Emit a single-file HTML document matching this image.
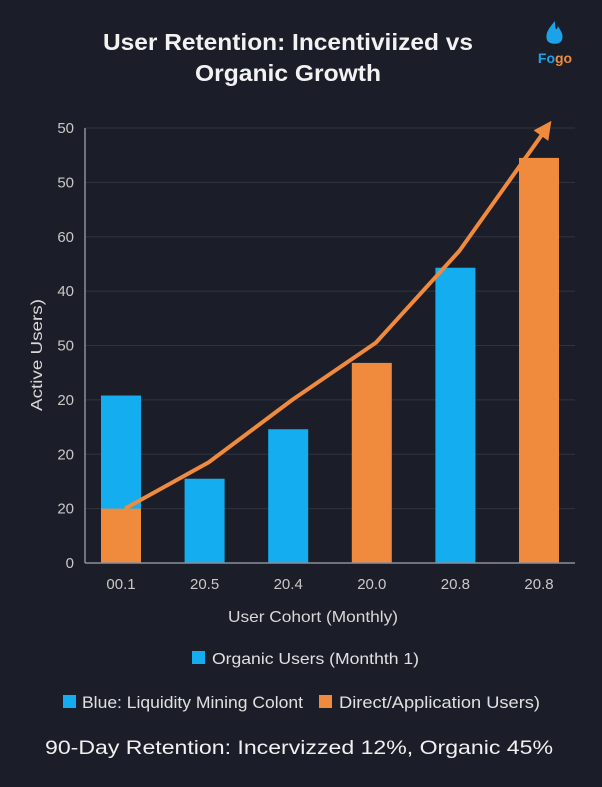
<!DOCTYPE html>
<html><head><meta charset="utf-8"><style>
body{margin:0;background:#1b1e28;}
svg{display:block;font-family:"Liberation Sans",sans-serif;}
</style></head><body>
<svg id="chart" width="602" height="787">
<rect width="602" height="787" fill="#1b1e28"/>
<text x="288" y="50" fill="#f2f2f2" font-size="23" font-weight="bold" text-anchor="middle" textLength="370" lengthAdjust="spacingAndGlyphs">User Retention: Incentiviized vs</text>
<text x="288" y="81" fill="#f2f2f2" font-size="23" font-weight="bold" text-anchor="middle" textLength="186" lengthAdjust="spacingAndGlyphs">Organic Growth</text>
<g>
<path d="M555,21 C549,28 545,33 547,40 C549,45 560,45 562,40 C564,34 560,30 558,26 C557,31 555,31 555,21 Z" fill="#1aa3e8"/>
<text x="555" y="63" font-size="14" font-weight="bold" text-anchor="middle"><tspan fill="#1aa3e8">Fo</tspan><tspan fill="#f08a3c">go</tspan></text>
</g>
<g id="grid"></g><g id="bars"></g><g id="line"></g><g id="axes"></g>
<text x="313" y="622" fill="#d8d8d8" font-size="16" text-anchor="middle" textLength="170" lengthAdjust="spacingAndGlyphs">User Cohort (Monthly)</text>
<text transform="translate(42,355) rotate(-90)" fill="#d8d8d8" font-size="16" text-anchor="middle" textLength="112" lengthAdjust="spacingAndGlyphs">Active Users)</text>
<g><rect x="192" y="651" width="13" height="13" fill="#14aef0"/><text x="212" y="664" fill="#e0e0e0" font-size="16" textLength="207" lengthAdjust="spacingAndGlyphs">Organic Users (Monthth 1)</text></g>
<g><rect x="63" y="695" width="13" height="13" fill="#14aef0"/><text x="82" y="708" fill="#e0e0e0" font-size="16.5" textLength="221" lengthAdjust="spacingAndGlyphs">Blue: Liquidity Mining Colont</text></g>
<g><rect x="319" y="695" width="13" height="13" fill="#f08a3c"/><text x="339" y="708" fill="#e0e0e0" font-size="16.5" textLength="201" lengthAdjust="spacingAndGlyphs">Direct/Application Users)</text></g>
<text x="299" y="754" fill="#f0f0f0" font-size="19" text-anchor="middle" textLength="508" lengthAdjust="spacingAndGlyphs">90-Day Retention: Incervizzed 12%, Organic 45%</text>
</svg>
<script>
const categories=["00.1","20.5","20.4","20.0","20.8","20.8"];
const barValues=[30.8,15.5,24.6,36.8,54.3,74.5];
const barColors=["blue","blue","blue","orange","blue","orange"];
const orangeBase=[10,0,0,0,0,0];
const tickValues=[0,10,20,30,40,50,60,70,80];
const tickLabels=["0","20","20","20","50","40","60","50","50"];
const lineIdx=[0,1,2,3,4,5.1];
const lineValues=[10,18.5,30,40.5,57.4,81.3];
const NS="http://www.w3.org/2000/svg";
const y=v=>563-v*(435/80);
const x=i=>121+i*83.6;
function mk(t,a,p){const e=document.createElementNS(NS,t);for(const k in a)e.setAttribute(k,a[k]);p.appendChild(e);return e;}
const G=document.getElementById('grid'),B=document.getElementById('bars'),L=document.getElementById('line'),A=document.getElementById('axes');
tickValues.forEach((v,i)=>{
 const g=mk('line',{x1:85,x2:575,y1:y(v),y2:y(v),stroke:'#2f3442','stroke-width':1},G);
 
 
 const t=mk('text',{x:74,y:y(v)+5,fill:'#c8c8c8','font-size':15,'text-anchor':'end'},A);
 t.textContent=tickLabels[i];
 
 
});
mk('line',{x1:85,x2:85,y1:y(80),y2:563,stroke:'#8a8f99','stroke-width':1.5},A);
mk('line',{x1:85,x2:575,y1:563,y2:563,stroke:'#8a8f99','stroke-width':1.5},A);
categories.forEach((c,i)=>{
 const col=barColors[i]==='blue'?'#14aef0':'#f08a3c';
 const r=mk('rect',{x:x(i)-20,y:y(barValues[i]),width:40,height:563-y(barValues[i]),fill:col},B);
 
 
 if(orangeBase[i]>0){
  const o=mk('rect',{x:x(i)-20,y:y(orangeBase[i]),width:40,height:563-y(orangeBase[i]),fill:'#f08a3c'},B);
  
  
 }
 const t=mk('text',{x:x(i),y:589,fill:'#c8c8c8','font-size':15,'text-anchor':'middle'},A);
 t.textContent=c;
 
 
});
const pts=lineIdx.map((v,i)=>[x(v)+4,y(lineValues[i])]);
const n=pts.length;
const p=mk('polyline',{points:pts.slice(0,n-1).map(q=>q.join(',')).join(' ')+' '+(pts[n-1][0]-6)+','+(pts[n-1][1]+9),fill:'none',stroke:'#f08a3c','stroke-width':4,'stroke-linejoin':'round'},L);


const [ex,ey]=pts[n-1],[px,py]=pts[n-2];
const ang=Math.atan2(ey-py,ex-px);
const hl=18,hw=9;
const bx=ex-hl*Math.cos(ang),by=ey-hl*Math.sin(ang);
const a=mk('polygon',{points:`${ex},${ey} ${bx+hw*Math.sin(ang)},${by-hw*Math.cos(ang)} ${bx-hw*Math.sin(ang)},${by+hw*Math.cos(ang)}`,fill:'#f08a3c'},L);


</script>
</body></html>
